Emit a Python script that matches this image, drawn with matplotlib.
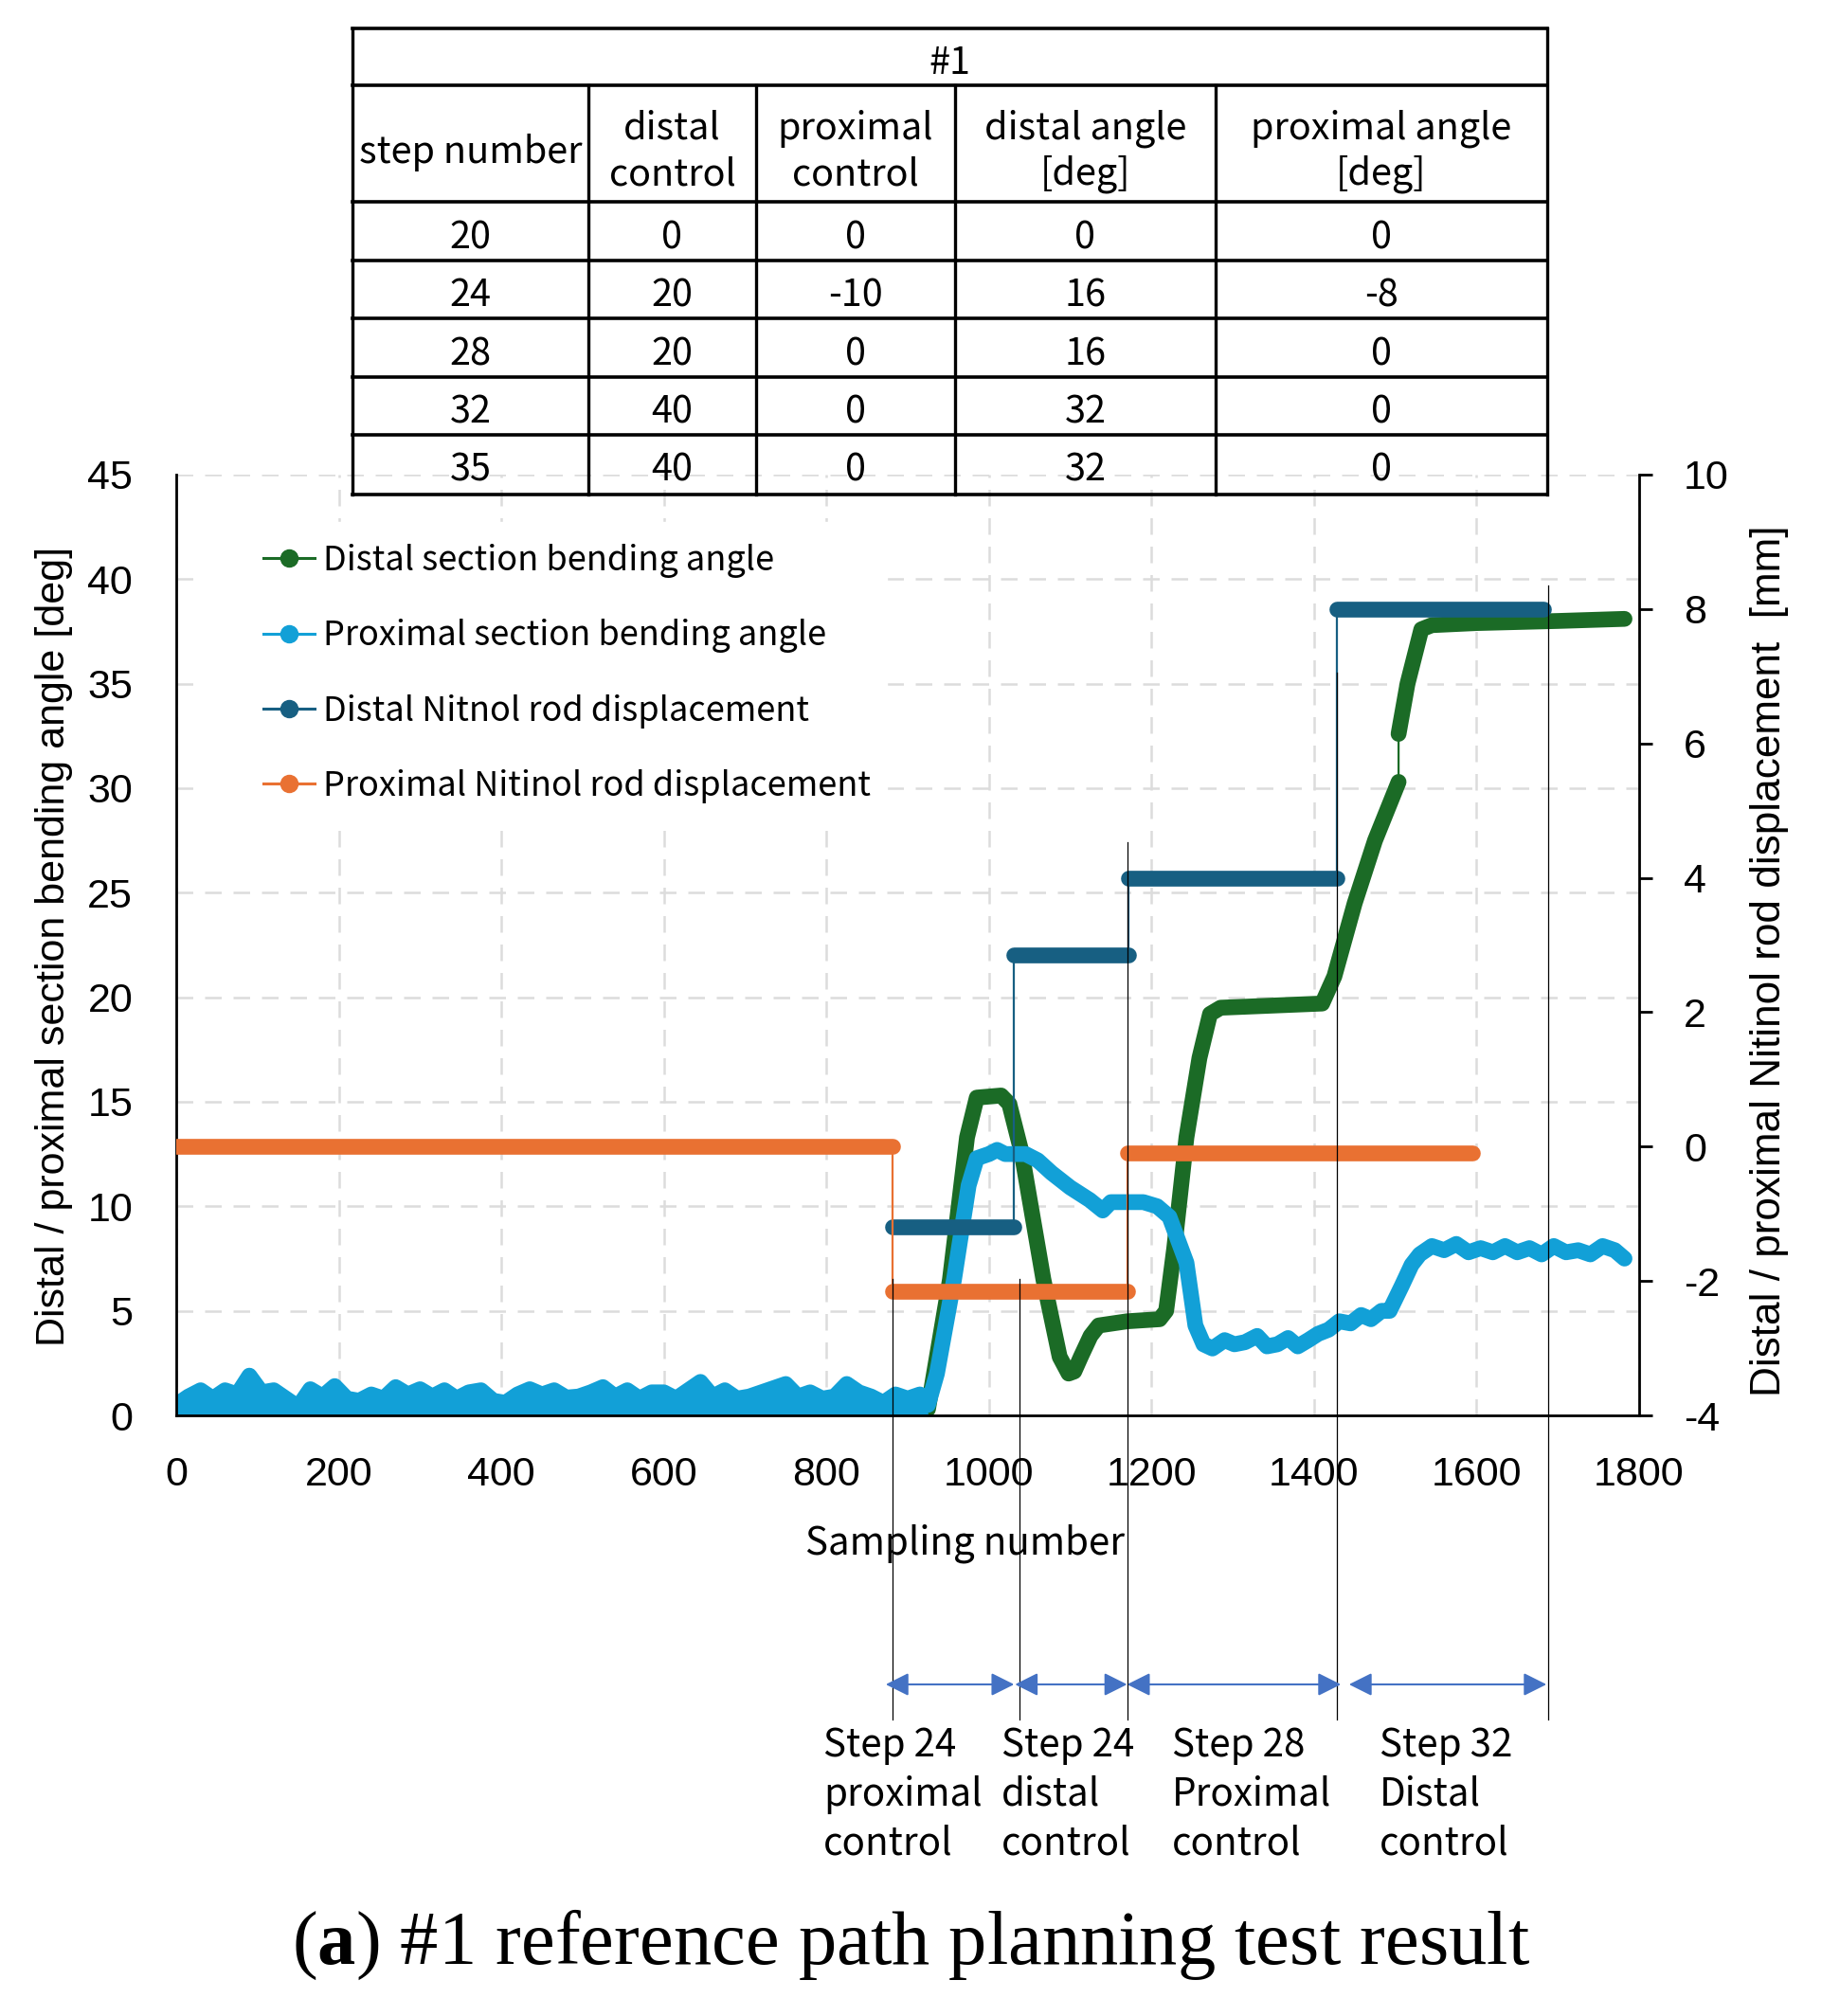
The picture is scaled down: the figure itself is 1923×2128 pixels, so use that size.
import numpy as np
import matplotlib
matplotlib.use("Agg")
import matplotlib.pyplot as plt
from matplotlib.lines import Line2D
from matplotlib.patches import Rectangle
from matplotlib.transforms import blended_transform_factory

plt.rcParams['font.family'] = 'Liberation Sans'
plt.rcParams['axes.unicode_minus'] = False
plt.rcParams['mathtext.fontset'] = 'custom'
plt.rcParams['mathtext.rm'] = 'Liberation Serif'
plt.rcParams['mathtext.bf'] = 'Liberation Serif:bold'
CJK = 'Noto Sans CJK KR'

# table above the chart
table_title = "#1"
table_header = [["step number"], ["distal", "control"], ["proximal", "control"],
                ["distal angle", "[deg]"], ["proximal angle", "[deg]"]]
table_rows = [
    ["20", "0", "0", "0", "0"],
    ["24", "20", "-10", "16", "-8"],
    ["28", "20", "0", "16", "0"],
    ["32", "40", "0", "32", "0"],
    ["35", "40", "0", "32", "0"],
]

# distal section bending angle [deg] (two runs of samples, short gap between)
distal_a_x = [0, 918, 925, 952, 973, 985, 1015, 1025, 1040, 1067, 1087, 1098, 1105, 1113,
              1125, 1135, 1170, 1210, 1218, 1228, 1243, 1259, 1272, 1285, 1410, 1425, 1450,
              1475, 1504]
distal_a_y = [0.05, 0.05, 0.3, 6.5, 13.3, 15.2, 15.3, 14.9, 12.6, 6.5, 2.8, 2.0, 2.1, 2.8,
              3.8, 4.3, 4.5, 4.6, 5.0, 8.0, 13.3, 17.1, 19.2, 19.5, 19.7, 21.0, 24.5,
              27.5, 30.3]
distal_b_x = [1504, 1515, 1532, 1545, 1600, 1700, 1782]
distal_b_y = [32.6, 35.0, 37.6, 37.8, 37.9, 38.0, 38.1]

# proximal section bending angle [deg]: noisy start, then the response
prox_noise_x = list(range(0, 930, 15))
prox_noise_hi = [0.5, 0.9, 1.2, 0.8, 1.2, 1.0, 1.9, 1.1, 1.2, 0.8, 0.4, 1.25, 0.9, 1.4,
                 0.8, 0.7, 1.0, 0.8, 1.35, 1.0, 1.25, 0.9, 1.2, 0.8, 1.1, 1.2, 0.7, 0.6,
                 1.0, 1.25, 1.0, 1.2, 0.85, 0.9, 1.1, 1.35, 0.9, 1.2, 0.8, 1.1, 1.1, 0.8,
                 1.2, 1.6, 0.9, 1.2, 0.8, 0.9, 1.1, 1.3, 1.5, 0.9, 1.1, 0.8, 0.9, 1.5,
                 1.1, 0.9, 0.6, 1.0, 0.8, 1.0]
prox_noise_lo = 0.1
prox_x = [925, 936, 957, 975, 985, 1000, 1010, 1020, 1045, 1060, 1077, 1100, 1124, 1140,
          1150, 1165, 1190, 1207, 1222, 1243, 1254, 1264, 1275, 1290, 1302, 1315, 1330,
          1342, 1355, 1368, 1380, 1393, 1405, 1418, 1431, 1445, 1458, 1470, 1483, 1493,
          1508, 1520, 1530, 1545, 1560, 1575, 1590, 1605, 1620, 1635, 1650, 1665, 1680,
          1695, 1710, 1725, 1740, 1755, 1770, 1782]
prox_y = [0.5, 2.0, 6.5, 11.0, 12.3, 12.5, 12.7, 12.5, 12.5, 12.2, 11.6, 10.9, 10.3, 9.8,
          10.2, 10.2, 10.2, 10.0, 9.5, 7.3, 4.3, 3.4, 3.2, 3.6, 3.4, 3.5, 3.8, 3.3,
          3.4, 3.7, 3.3, 3.6, 3.9, 4.1, 4.5, 4.4, 4.8, 4.6, 5.0, 5.0,
          6.2, 7.2, 7.7, 8.1, 7.9, 8.2, 7.8, 8.0, 7.8, 8.1, 7.8, 8.0, 7.7,
          8.1, 7.8, 7.9, 7.7, 8.1, 7.9, 7.5]

# rod displacements [mm]: plateaus (start sample, end sample, value)
distal_rod_start = [881, 1031, 1172, 1428]
distal_rod_end = [1031, 1172, 1428, 1682]
distal_rod_val = [-1.2, 2.85, 4.0, 8.0]
prox_rod_start = [0, 881, 1170]
prox_rod_end = [881, 1170, 1595]
prox_rod_val = [0.0, -2.15, -0.1]

# control phases below the chart
phase_lines = [881, 1038, 1170, 1428, 1688]
phase_line_top = [1350, 1350, 889, 710, 618]
phase_arrows = [(873, 1031), (1032, 1170), (1170, 1433), (1443, 1686)]
phase_labels = ["Step 24\nproximal\ncontrol", "Step 24\ndistal\ncontrol",
                "Step 28\nProximal\ncontrol", "Step 32\nDistal\ncontrol"]

GREEN = '#1b6b26'
LBLUE = '#12a0d7'
DBLUE = '#175f82'
ORANGE = '#e97132'
ARROW = '#4472c4'
THICK = 12
THIN = 1.6

W, H = 1924, 2128
fig = plt.figure(figsize=(W / 100, H / 100), dpi=100)
ax = fig.add_axes([186 / W, 1 - 1494 / H, (1730 - 186) / W, (1494 - 501) / H])
ax2 = ax.twinx()

# primary axis: bending angles
ax.plot(distal_a_x + distal_b_x, distal_a_y + distal_b_y, color=GREEN, lw=THIN, zorder=2)
for xs, ys in [(distal_a_x, distal_a_y), (distal_b_x, distal_b_y)]:
    ax.plot(xs, ys, color=GREEN, lw=THICK, solid_capstyle='round',
            solid_joinstyle='round', zorder=2)

ax.fill_between(prox_noise_x, prox_noise_lo, prox_noise_hi, color=LBLUE, lw=0, zorder=2.1)
ax.plot(prox_noise_x, [prox_noise_lo] * len(prox_noise_x), color=LBLUE, lw=THICK,
        solid_capstyle='round', zorder=2.1)
ax.plot(prox_noise_x + prox_x, prox_noise_hi + prox_y, color=LBLUE, lw=THICK,
        solid_capstyle='round', solid_joinstyle='round', zorder=2.1)

# secondary axis: rod displacements
for starts, ends, vals, col in [(distal_rod_start, distal_rod_end, distal_rod_val, DBLUE),
                                (prox_rod_start, prox_rod_end, prox_rod_val, ORANGE)]:
    sx, sy = [], []
    for s, e, v in zip(starts, ends, vals):
        sx += [s, e]
        sy += [v, v]
    ax2.plot(sx, sy, color=col, lw=THIN, zorder=2)
    for s, e, v in zip(starts, ends, vals):
        ax2.plot([s, e], [v, v], color=col, lw=THICK, solid_capstyle='round', zorder=2)

ax.set_xlim(0, 1800)
ax.set_ylim(0, 45)
ax2.set_ylim(-4, 10)
ax.set_xticks(range(0, 1801, 200))
ax.set_yticks(range(0, 46, 5))
ax2.set_yticks(range(-4, 11, 2))
ax.tick_params(axis='both', length=0, labelsize=31)
ax.tick_params(axis='y', pad=33)
ax.tick_params(axis='x', pad=31)
ax2.tick_params(axis='y', length=10, width=2, direction='out', pad=24, labelsize=31)

ax.set_axisbelow(True)
ax.grid(True, color='#dcdcdc', lw=1.8, dashes=(7, 5))
ax.add_patch(Rectangle((0.016, 0.623), 0.47, 0.327, transform=ax.transAxes,
                       color='white', zorder=1))

for sp in ['top', 'right']:
    ax.spines[sp].set_visible(False)
for sp in ['top', 'left', 'bottom']:
    ax2.spines[sp].set_visible(False)
ax.spines['left'].set_linewidth(2)
ax.spines['bottom'].set_linewidth(2)
ax2.spines['right'].set_linewidth(2)

ax.set_xlabel('Sampling number', fontsize=29, family=CJK)
ax.xaxis.label.set_va('baseline')
ax.xaxis.set_label_coords((1019 - 186) / 1544, (1494 - 1640) / 993)
ax.set_ylabel('Distal / proximal section bending angle [deg]', fontsize=31)
ax.yaxis.label.set_va('baseline')
ax.yaxis.set_label_coords((68 - 186) / 1544, 0.499)
ax2.set_ylabel('Distal / proximal Nitinol rod displacement  [mm]', fontsize=31.8)
ax2.yaxis.label.set_va('baseline')
ax2.yaxis.set_label_coords((1879 - 186) / 1544, 0.483)

handles = [Line2D([], [], color=c, lw=2.2, marker='o', ms=13) for c in (GREEN, LBLUE, DBLUE, ORANGE)]
labels = ['Distal section bending angle', 'Proximal section bending angle',
          'Distal Nitnol rod displacement', 'Proximal Nitinol rod displacement']
ax2.legend(handles, labels, loc='upper left', bbox_to_anchor=(0.0596, 0.9265),
           frameon=False, borderpad=0, borderaxespad=0, handlelength=1.5,
           handletextpad=0.25, labelspacing=1.2, prop={'family': CJK, 'size': 26})

# overlay in pixel coordinates for the table, phase marks and caption
ov = fig.add_axes([0, 0, 1, 1], zorder=10)
ov.set_xlim(0, W)
ov.set_ylim(H, 0)
ov.axis('off')

col_edges = [372, 621, 798, 1008, 1283, 1633]
row_edges = [30, 90, 213, 275, 336, 398, 459, 522]
for y in row_edges:
    ov.plot([col_edges[0], col_edges[-1]], [y, y], color='black', lw=2.6, solid_capstyle='projecting')
for i, x in enumerate(col_edges):
    y0 = row_edges[0] if i in (0, len(col_edges) - 1) else row_edges[1]
    ov.plot([x, x], [y0, row_edges[-1]], color='black', lw=2.4)
tfont = dict(family=CJK, fontsize=28.5, ha='center', va='baseline')
ov.text((col_edges[0] + col_edges[-1]) / 2, 78, table_title, **tfont)
for j, cell in enumerate(table_header):
    xc = (col_edges[j] + col_edges[j + 1]) / 2
    if len(cell) == 1:
        ov.text(xc, 171.7, cell[0], **tfont)
    else:
        ov.text(xc, 146.7, cell[0], **tfont)
        ov.text(xc, 195, cell[1], **tfont)
row_base = [262.7, 323.3, 385, 446.7, 507]
for r, row in enumerate(table_rows):
    for j, val in enumerate(row):
        ov.text((col_edges[j] + col_edges[j + 1]) / 2, row_base[r], val, **tfont)

trans = blended_transform_factory(ax.transData, ov.transData)
for s, top in zip(phase_lines, phase_line_top):
    ov.plot([s, s], [top, 1815], color='black', lw=0.9, transform=trans)
for a, b in phase_arrows:
    ov.annotate('', xy=(b, 1778), xytext=(a, 1778), xycoords=trans, textcoords=trans,
                arrowprops=dict(arrowstyle='<|-|>', color=ARROW, lw=1.5,
                                mutation_scale=37, shrinkA=0, shrinkB=0))
for x, lab in zip([869, 1057, 1237, 1456], phase_labels):
    for k, line in enumerate(lab.split('\n')):
        ov.text(x, 1854 + 52 * k, line, family=CJK, fontsize=29, ha='left', va='baseline')

ov.text(961, 2073, r'($\mathbf{a}$) #1 reference path planning test result',
        family='Liberation Serif', fontsize=58, ha='center', va='baseline')

fig.savefig('out.png', dpi=100)
